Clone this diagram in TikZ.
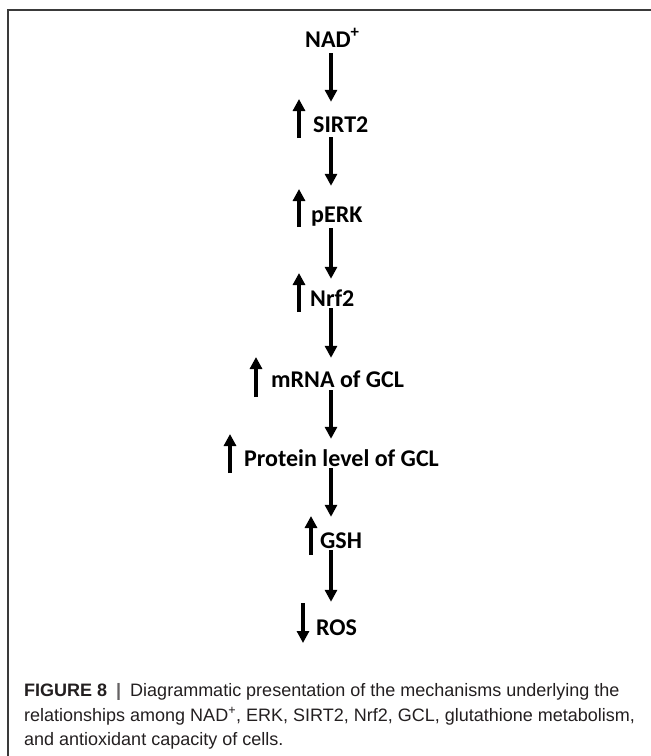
\documentclass[tikz,border=0pt]{standalone}
\usepackage{fontspec}
\setmainfont{Liberation Sans}
\newfontfamily\calib{Carlito}
\usetikzlibrary{arrows.meta}
\definecolor{captxt}{HTML}{231F20}
\definecolor{framec}{HTML}{3A3A3A}
\begin{document}
\begin{tikzpicture}[x=1pt,y=-1pt,
  lbl/.style={anchor=base west,inner sep=0pt,font=\calib\bfseries\fontsize{24}{28}\selectfont,text height=16pt,text depth=0pt},
  flow/.style={line width=3.3pt,-{Triangle[width=12pt,length=12pt]}},
  updown/.style={line width=3.3pt,-{Triangle[width=12pt,length=12pt]}},
  captext/.style={anchor=base west,inner sep=0pt,text=captxt,font=\fontsize{18}{22}\selectfont}]
\useasboundingbox (0,0) rectangle (651,756);
% frame
\draw[framec,line width=1.6pt] (8,756) -- (8,10) -- (651,10);
% labels
\node[lbl] (nad) at (305,47) {NAD\textsuperscript{+}};
\node[lbl] (sirt) at (313,132) {SIRT2};
\node[lbl] (perk) at (311,222) {pERK};
\node[lbl] (nrf) at (310,306) {Nrf2};
\node[lbl] (mrna) at (271,387) {mRNA of GCL};
\node[lbl] (prot) at (244,466) {Protein level of GCL};
\node[lbl] (gsh) at (320,548) {GSH};
\node[lbl] (ros) at (316,635) {ROS};
\coordinate (spine) at (331,0);
% connectors
\draw[flow,shorten <=6pt,shorten >=14pt] (nad.south -| spine) -- (sirt.north -| spine);
\draw[flow,shorten <=5pt,shorten >=20pt] (sirt.south -| spine) -- (perk.north -| spine);
\draw[flow,shorten <=6pt,shorten >=11pt] (perk.south -| spine) -- (nrf.north -| spine);
\draw[flow,shorten <=2pt,shorten >=13pt] (nrf.south -| spine) -- (mrna.north -| spine);
\draw[flow,shorten <=3pt,shorten >=11pt] (mrna.south -| spine) -- (prot.north -| spine);
\draw[flow,shorten <=2pt,shorten >=15pt] (prot.south -| spine) -- (gsh.north -| spine);
\draw[flow,shorten <=2pt,shorten >=17pt] (gsh.south -| spine) -- (ros.north -| spine);
% up / down indicators
\draw[updown] (299,138) -- (299,99);
\draw[updown] (299,227) -- (299,189);
\draw[updown] (299,312) -- (299,273);
\draw[updown] (256,397) -- (256,357);
\draw[updown] (230,473) -- (230,434);
\draw[updown] (311,555) -- (311,516);
\draw[updown] (303,603) -- (303,643);
% caption
\node[captext] (c1) at (24,696) {\textbf{FIGURE 8}\hspace{0.5em}{\color{captxt!70}\textbf{|}}\hspace{0.5em}Diagrammatic presentation of the mechanisms underlying the};
\node[captext] (c2) at (24,721) {relationships among NAD\textsuperscript{+}, ERK, SIRT2, Nrf2, GCL, glutathione metabolism,};
\node[captext] (c3) at (24,745) {and antioxidant capacity of cells.};
\end{tikzpicture}
\end{document}
